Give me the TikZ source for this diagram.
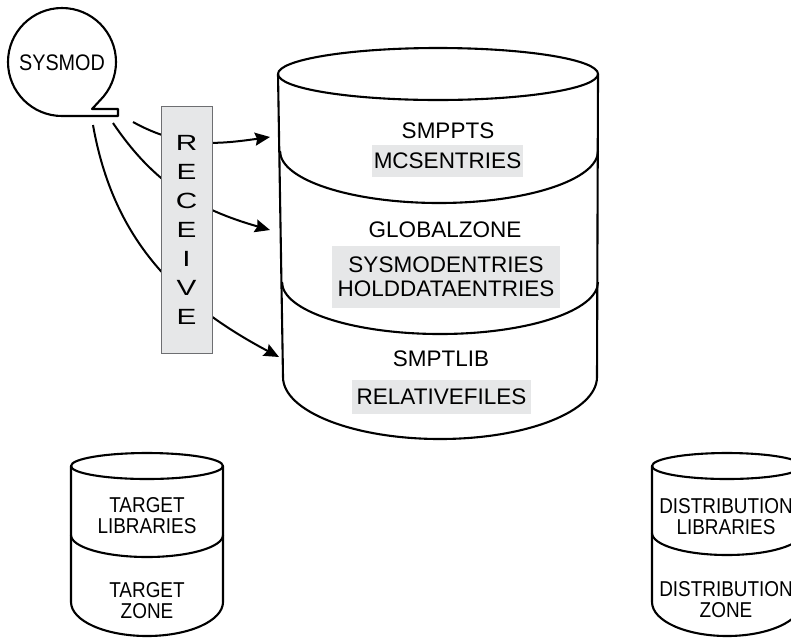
\documentclass[tikz,border=0pt]{standalone}
\usepackage{fontspec}
\setmainfont{Liberation Sans}
\newfontfamily\narrowfont[FakeStretch=0.88]{Liberation Sans}
\newfontfamily\widefont[FakeStretch=1.35]{Liberation Sans}
\usetikzlibrary{arrows.meta}
\definecolor{boxgray}{HTML}{E6E7E8}
\definecolor{edgegray}{HTML}{6D6E71}
\tikzset{
  outline/.style={line width=2.1pt, line join=round},
  flow/.style={-{Stealth[length=15pt, width=13pt, inset=2pt]}, line width=2pt},
  dbtext/.style={inner sep=0pt, font=\fontsize{22.5}{24}\selectfont},
  entrybox/.style={fill=boxgray, inner sep=0pt, align=center, font=\fontsize{22.5}{24}\selectfont},
  smalltext/.style={inner sep=0pt, align=center, font=\narrowfont\fontsize{21.5}{21}\selectfont},
}
\begin{document}
\begin{tikzpicture}[x=1pt, y=-1pt]
    \useasboundingbox (0,0) rectangle (791,638);
    \draw[outline] (92,109) -- (118,109) -- (118,116) -- (62,116) arc[start angle=90, end angle=405, radius=54] -- cycle;
    \node[inner sep=0pt, font=\narrowfont\fontsize{22.5}{24}\selectfont] (sysmod) at (62,63) {SYSMOD};

    \draw[outline] (438,74) ellipse [x radius=160, y radius=26];
    \draw[outline] (278,74) -- (283,377) arc[start angle=180, end angle=0, x radius=157, y radius=62] -- (598,74);
    \draw[outline] (280,151) arc[start angle=180, end angle=0, x radius=159, y radius=52];
    \draw[outline] (282,282) arc[start angle=180, end angle=0, x radius=158, y radius=52];
    \node[dbtext] (smppts) at (448,131) {SMPPTS};
    \node[entrybox, minimum width=151pt, minimum height=32pt] (mcsentries) at (447.5,161) {MCSENTRIES};
    \node[dbtext] (globalzone) at (445,230) {GLOBALZONE};
    \node[entrybox, minimum width=228pt, minimum height=62pt] (sysmodentries) at (446,277) {SYSMODENTRIES\\HOLDDATAENTRIES};
    \node[dbtext] (smptlib) at (441,359) {SMPTLIB};
    \node[entrybox, minimum width=179pt, minimum height=34pt] (relfiles) at (441.5,397) {RELATIVEFILES};

    \draw[outline] (147,466) ellipse [x radius=76, y radius=13];
    \draw[outline] (71,466) -- (71,602) arc[start angle=180, end angle=0, x radius=76, y radius=34] -- (223,466);
    \draw[outline] (71,535) arc[start angle=180, end angle=0, x radius=76, y radius=22];
    \node[smalltext] (targetlib) at (147,516) {TARGET\\LIBRARIES};
    \node[smalltext] (targetzone) at (147,601) {TARGET\\ZONE};

    \draw[outline] (727,466) ellipse [x radius=75, y radius=13];
    \draw[outline] (652,466) -- (652,602) arc[start angle=180, end angle=0, x radius=75, y radius=34] -- (802,466);
    \draw[outline] (652,533) arc[start angle=180, end angle=0, x radius=75, y radius=22];
    \node[smalltext] (distlib) at (726,517) {DISTRIBUTION\\LIBRARIES};
    \node[smalltext] (distzone) at (726,600) {DISTRIBUTION\\ZONE};

    \coordinate (s1) at (133,122);
    \coordinate (s2) at (113,123);
    \coordinate (s3) at (93,125);
    \coordinate (t1) at (270,137);
    \coordinate (t2) at (270,230);
    \coordinate (t3) at (279,357);
    \draw[flow] (s1) to[out=-29, in=188] (t1);
    \draw[flow] (s2) to[out=-56, in=164] (t2);
    \draw[flow] (s3) to[out=-80, in=152] (t3);

    \node[draw=edgegray, line width=0.8pt, fill=boxgray, minimum width=51pt, minimum height=247pt, inner sep=0pt, align=center, font=\widefont\fontsize{22}{29}\selectfont] (receive) at (186.5,229.5) {R\\E\\C\\E\\I\\V\\E};
\end{tikzpicture}
\end{document}
